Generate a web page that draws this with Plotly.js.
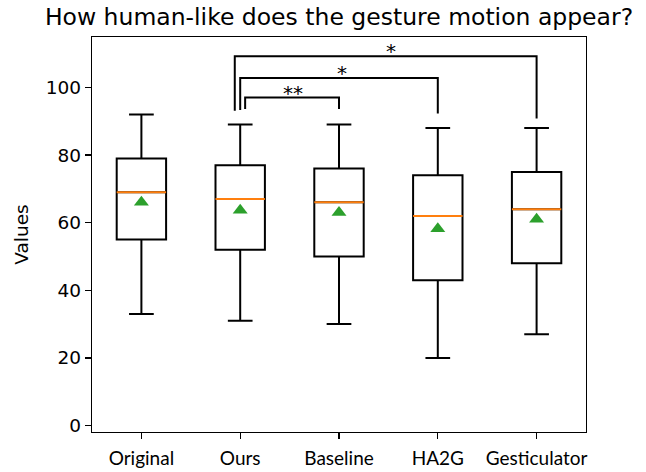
<!DOCTYPE html>
<html>
<head>
<meta charset="utf-8">
<script src="https://cdn.plot.ly/plotly-3.0.1.min.js"></script>
<style>html,body{margin:0;padding:0;background:#fff;}#chart{width:646px;height:472px;}</style>
</head>
<body>
<div id="chart"></div>
<script>
// ---- data ----
const categories = ["Original", "Ours", "Baseline", "HA2G", "Gesticulator"];
const positions = [1, 2, 3, 4, 5];
const lowerWhisker = [33, 31, 30, 20, 27];
const q1Values = [55, 52, 50, 43, 48];
const medianValues = [69, 67, 66, 62, 64];
const q3Values = [79, 77, 76, 74, 75];
const upperWhisker = [92, 89, 89, 88, 88];
const meanValues = [66, 63.7, 63, 58.2, 61];
const yTicks = [0, 20, 40, 60, 80, 100];

// significance brackets (category index pairs, 0-based)
const sigFrom = [1, 1, 1];
const sigTo = [2, 3, 4];
const sigLabels = ["**", "*", "*"];
const sigTop = [97.0, 102.8, 109.2];
const sigLegLeftBottom = [93.6, 93.3, 93.1];
const sigLegRightBottom = [93.6, 92.3, 90.8];
const sigLeftOffset = [0.05, 0.0, -0.055];

// ---- build ----
const BOX_HALF = 0.25;
const traces = [];

traces.push({
  type: "box",
  x: positions,
  q1: q1Values,
  median: medianValues,
  q3: q3Values,
  lowerfence: lowerWhisker,
  upperfence: upperWhisker,
  width: 2 * BOX_HALF,
  whiskerwidth: 0.5,
  boxpoints: false,
  fillcolor: "rgba(0,0,0,0)",
  line: { color: "#000000", width: 2 },
  hoverinfo: "skip",
  showlegend: false
});

// median lines (orange)
const medX = [], medY = [];
positions.forEach((p, i) => {
  medX.push(p - BOX_HALF, p + BOX_HALF, null);
  medY.push(medianValues[i], medianValues[i], null);
});
traces.push({
  type: "scatter", mode: "lines", x: medX, y: medY,
  line: { color: "#ff7f0e", width: 2 }, hoverinfo: "skip", showlegend: false
});

// means (green triangles)
traces.push({
  type: "scatter", mode: "markers", x: positions, y: meanValues,
  marker: { symbol: "triangle-up", size: 13, color: "#2ca02c", line: { width: 0 } },
  hoverinfo: "skip", showlegend: false
});

// brackets
const brX = [], brY = [];
const annotations = [];
sigFrom.forEach((f, i) => {
  const xl = positions[f] + sigLeftOffset[i];
  const xr = positions[sigTo[i]];
  brX.push(xl, xl, xr, xr, null);
  brY.push(sigLegLeftBottom[i], sigTop[i], sigTop[i], sigLegRightBottom[i], null);
  annotations.push({
    x: (positions[f] + positions[sigTo[i]]) / 2,
    y: sigTop[i],
    xref: "x", yref: "y",
    text: sigLabels[i],
    showarrow: false,
    yanchor: "middle",
    yshift: 5,
    xshift: 3,
    font: { family: "DejaVu Sans", size: 20, color: "#000000" }
  });
});
traces.push({
  type: "scatter", mode: "lines", x: brX, y: brY,
  line: { color: "#000000", width: 2 }, hoverinfo: "skip", showlegend: false,
  cliponaxis: false
});

const layout = {
  width: 646, height: 472,
  margin: { l: 92, r: 60, t: 37, b: 40 },
  paper_bgcolor: "#ffffff", plot_bgcolor: "#ffffff",
  title: {
    text: "How human-like does the gesture motion appear?",
    font: { family: "DejaVu Sans", size: 23.5, color: "#000000" },
    x: 0.5, xref: "paper", xanchor: "center",
    y: 1 - 17 / 472, yref: "container", yanchor: "middle"
  },
  xaxis: {
    range: [0.5, 5.5],
    tickvals: positions, ticktext: categories,
    ticks: "outside", ticklen: 6, tickwidth: 1.3, tickcolor: "#000000",
    showline: true, linecolor: "#000000", linewidth: 1.3, mirror: true,
    showgrid: false, zeroline: false, ticklabelstandoff: 3,
    tickfont: { family: "Lato", size: 19, color: "#000000" }
  },
  yaxis: {
    range: [-1.9, 114.9],
    tickvals: yTicks,
    ticks: "outside", ticklen: 6, tickwidth: 1.3, tickcolor: "#000000",
    showline: true, linecolor: "#000000", linewidth: 1.3, mirror: true,
    showgrid: false, zeroline: false,
    tickfont: { family: "DejaVu Sans", size: 18.5, color: "#000000" },
    title: { text: "Values", font: { family: "DejaVu Sans", size: 18.5, color: "#000000" }, standoff: 12 }
  },
  annotations: annotations,
  showlegend: false
};

Plotly.newPlot("chart", traces, layout, { staticPlot: true, displayModeBar: false });
</script>
</body>
</html>
